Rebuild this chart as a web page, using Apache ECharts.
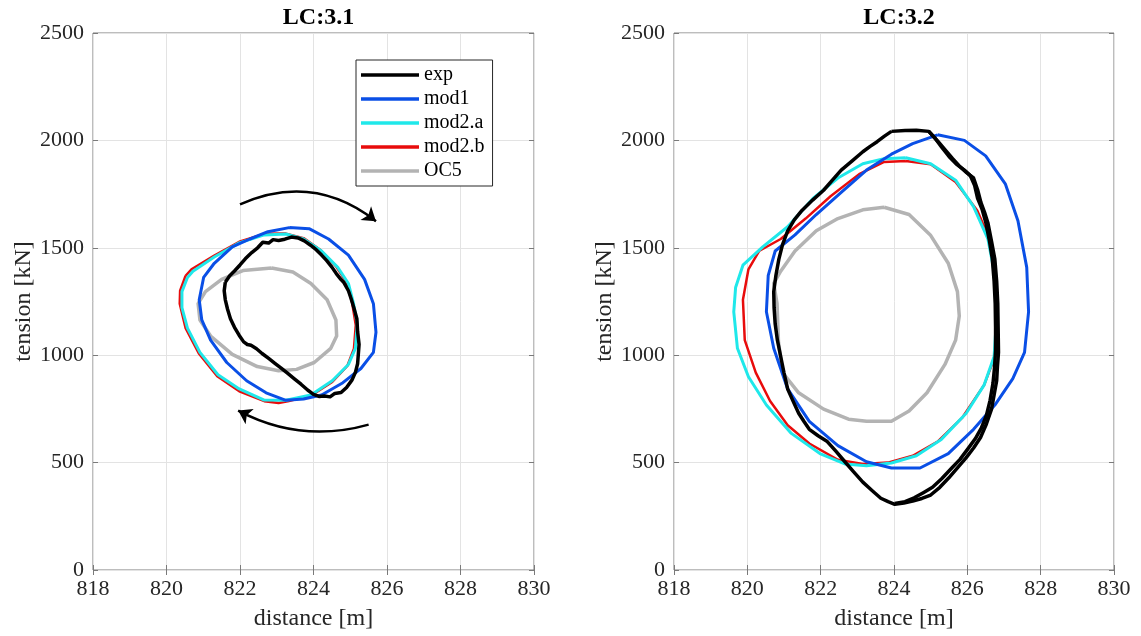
<!DOCTYPE html>
<html>
<head>
<meta charset="utf-8">
<script src="https://cdn.jsdelivr.net/npm/echarts@6/dist/echarts.min.js"></script>
<style>
html,body{margin:0;padding:0;background:#fff;}
#chart{width:1141px;height:636px;}
</style>
</head>
<body>
<div id="chart"></div>
<script>
// ---------- data ----------
const TITLES = ['LC:3.1', 'LC:3.2'];
const SERIES_NAMES = ['exp', 'mod1', 'mod2.a', 'mod2.b', 'OC5'];
const X_TICKS = [818, 820, 822, 824, 826, 828, 830];
const Y_TICKS = [0, 500, 1000, 1500, 2000, 2500];

// LC:3.1
const LC31_EXP = [[821.60,1340],[821.57,1300],[821.60,1258],[821.66,1215],[821.74,1170],[821.85,1130],[821.98,1092],[822.10,1062],[822.20,1050],[822.30,1046],[822.45,1030],[822.60,1008],[822.78,985],[822.95,962],[823.12,940],[823.30,915],[823.48,890],[823.66,865],[823.84,838],[824.00,818],[824.15,808],[824.30,810],[824.45,806],[824.58,822],[824.75,826],[824.90,850],[825.05,885],[825.14,920],[825.20,960],[825.22,1005],[825.24,1050],[825.20,1110],[825.18,1170],[825.10,1220],[825.02,1265],[824.95,1300],[824.82,1340],[824.75,1352],[824.62,1380],[824.50,1410],[824.36,1440],[824.22,1466],[824.08,1490],[823.92,1512],[823.75,1532],[823.58,1546],[823.40,1550],[823.22,1540],[823.05,1534],[822.90,1538],[822.78,1522],[822.62,1526],[822.48,1500],[822.32,1478],[822.15,1450],[822.00,1420],[821.85,1392],[821.72,1370],[821.60,1340]];
const LC31_MOD1 = [[823.34,1594],[823.88,1589],[824.41,1541],[824.95,1466],[825.39,1353],[825.63,1240],[825.70,1107],[825.63,1013],[825.29,938],[824.80,872],[824.22,815],[823.73,796],[823.25,790],[822.71,825],[822.18,881],[821.64,966],[821.20,1070],[820.96,1164],[820.89,1258],[821.01,1362],[821.30,1428],[821.79,1504],[822.27,1541],[822.76,1575],[823.34,1594]];
const LC31_MOD2A = [[820.57,1362],[820.42,1296],[820.42,1221],[820.57,1126],[820.91,1013],[821.40,909],[821.98,843],[822.66,791],[823.25,790],[823.93,815],[824.51,881],[824.95,957],[825.14,1032],[825.19,1145],[825.09,1240],[824.95,1334],[824.66,1409],[824.22,1485],[823.73,1541],[823.25,1564],[822.66,1560],[821.98,1523],[821.30,1457],[820.72,1391],[820.57,1362]];
const LC31_MOD2B = [[820.52,1370],[820.37,1300],[820.36,1240],[820.52,1126],[820.88,1008],[821.38,902],[821.98,832],[822.66,786],[823.05,777],[823.30,785],[823.93,812],[824.51,876],[824.92,950],[825.10,1030],[825.15,1140],[825.05,1245],[824.90,1340],[824.62,1412],[824.20,1488],[823.73,1545],[823.25,1566],[822.66,1565],[821.98,1528],[821.30,1464],[820.68,1400],[820.52,1370]];
const LC31_OC5 = [[822.86,1406],[823.44,1387],[823.93,1334],[824.37,1258],[824.61,1164],[824.63,1089],[824.47,1032],[824.02,966],[823.54,934],[823.05,928],[822.47,947],[821.79,1004],[821.20,1089],[820.91,1164],[820.86,1240],[821.06,1296],[821.50,1353],[822.08,1394],[822.86,1406]];
const LC31_ARROWS = [[[822.0,1702],[825.7,1624]], [[825.5,677],[821.95,742]]];

// LC:3.2
const LC32_EXP = [[823.93,2042],[824.30,2046],[824.61,2047],[824.95,2042],[825.20,1995],[825.39,1957],[825.60,1915],[825.78,1881],[825.98,1850],[826.17,1825],[826.28,1770],[826.37,1711],[826.47,1665],[826.56,1617],[826.66,1530],[826.75,1447],[826.80,1345],[826.83,1240],[826.84,1130],[826.85,1013],[826.82,945],[826.80,881],[826.73,815],[826.66,749],[826.52,680],[826.36,617],[826.17,568],[825.97,523],[825.73,475],[825.49,428],[825.25,385],[825.00,349],[824.76,333],[824.51,321],[824.27,312],[824.02,306],[823.84,318],[823.64,334],[823.40,370],[823.15,409],[822.90,457],[822.66,504],[822.42,552],[822.18,598],[821.93,625],[821.69,655],[821.55,690],[821.40,730],[821.25,785],[821.10,843],[821.00,918],[820.91,994],[820.82,1070],[820.76,1145],[820.73,1220],[820.72,1296],[820.78,1372],[820.86,1447],[820.96,1515],[821.10,1579],[821.28,1630],[821.49,1674],[821.78,1722],[822.08,1768],[822.32,1815],[822.56,1862],[822.86,1905],[823.15,1947],[823.35,1972],[823.54,1994],[823.74,2020],[823.93,2042]];
const LC32_EXP_B = [[824.95,2042],[825.12,2010],[825.30,1968],[825.50,1925],[825.70,1890],[825.92,1862],[826.08,1836],[826.20,1790],[826.28,1730],[826.40,1680],[826.50,1620],[826.60,1535],[826.68,1450],[826.73,1345],[826.76,1240],[826.77,1130],[826.77,1020],[826.74,940],[826.70,870],[826.62,790],[826.52,720],[826.38,660],[826.22,612],[826.02,565],[825.80,515],[825.55,470],[825.30,425],[825.05,385],[824.80,360],[824.55,336],[824.30,318],[824.02,310]];
const LC32_MOD1 = [[825.19,2026],[825.92,2000],[826.50,1928],[827.04,1796],[827.38,1626],[827.62,1409],[827.67,1202],[827.56,1013],[827.24,891],[826.75,768],[826.17,655],[825.48,542],[824.71,475],[823.93,475],[823.25,504],[822.47,579],[821.69,692],[821.10,843],[820.72,1032],[820.52,1202],[820.57,1372],[820.76,1485],[821.30,1560],[821.88,1655],[822.56,1758],[823.25,1862],[823.93,1936],[824.51,1985],[825.19,2026]];
const LC32_MOD2A = [[824.32,1919],[825.00,1891],[825.68,1815],[826.17,1692],[826.56,1542],[826.75,1372],[826.80,1183],[826.73,994],[826.46,862],[825.97,730],[825.29,608],[824.61,532],[823.93,498],[823.25,485],[822.66,494],[821.98,542],[821.20,636],[820.52,768],[820.03,900],[819.73,1032],[819.63,1202],[819.68,1315],[819.88,1419],[820.42,1504],[821.10,1598],[821.79,1730],[822.47,1825],[823.15,1891],[823.73,1915],[824.32,1919]];
const LC32_MOD2B = [[824.32,1904],[825.00,1889],[825.68,1806],[826.27,1674],[826.65,1523],[826.80,1334],[826.83,1145],[826.75,994],[826.46,862],[825.87,711],[825.19,598],[824.51,532],[823.83,500],[823.15,494],[822.47,513],[821.69,589],[821.10,674],[820.62,787],[820.23,919],[819.93,1070],[819.88,1258],[820.03,1400],[820.32,1485],[820.91,1541],[821.59,1636],[822.27,1740],[823.05,1843],[823.73,1900],[824.32,1904]];
const LC32_OC5 = [[823.73,1689],[824.41,1655],[824.99,1560],[825.48,1428],[825.73,1296],[825.78,1183],[825.68,1070],[825.39,957],[824.90,825],[824.41,740],[823.93,692],[823.25,692],[822.76,702],[822.08,749],[821.40,825],[820.96,919],[820.85,1060],[820.81,1240],[820.72,1334],[820.91,1391],[821.30,1485],[821.88,1579],[822.47,1636],[823.15,1677],[823.73,1689]];

// ---------- chart ----------
const COLORS = {exp:'#000000', mod1:'#0a4fe6', 'mod2.a':'#1fe8ea', 'mod2.b':'#e80c0c', OC5:'#b3b3b3'};
const WIDTHS = {exp:3.5, mod1:3, 'mod2.a':3, 'mod2.b':2.5, OC5:3.5};
const ZS = {exp:10, mod1:8, 'mod2.a':7, 'mod2.b':6, OC5:5};
const FONT = '"Liberation Serif","Times New Roman",serif';

const grids = [
  {left:93, right:1141-534, top:33, bottom:636-571, show:true, borderColor:'#7a7a7a', borderWidth:1, backgroundColor:'#fff'},
  {left:674, right:1141-1114, top:33, bottom:636-571, show:true, borderColor:'#7a7a7a', borderWidth:1, backgroundColor:'#fff'}
];

function xAx(gi, mirror){
  return {
    type:'value', gridIndex:gi, min:X_TICKS[0], max:X_TICKS[X_TICKS.length-1], interval:2,
    position: mirror ? 'top' : 'bottom',
    name: mirror ? '' : 'distance [m]', nameLocation:'middle', nameGap:37,
    nameTextStyle:{fontFamily:FONT, fontSize:24, color:'#262626'},
    axisLine:{show:false},
    axisTick:{show:true, inside:true, length:5, lineStyle:{color:'#7a7a7a'}},
    axisLabel:{show:!mirror, fontFamily:FONT, fontSize:22, color:'#262626', margin:8, formatter:(v)=>String(v)},
    splitLine:{show:!mirror, lineStyle:{color:'#e3e3e3', width:1}}
  };
}
function yAx(gi, mirror){
  return {
    type:'value', gridIndex:gi, min:Y_TICKS[0], max:Y_TICKS[Y_TICKS.length-1], interval:500,
    position: mirror ? 'right' : 'left',
    name: mirror ? '' : 'tension [kN]', nameLocation:'middle', nameGap:45,
    nameTextStyle:{fontFamily:FONT, fontSize:24, color:'#262626'},
    axisLine:{show:false},
    axisTick:{show:true, inside:true, length:5, lineStyle:{color:'#7a7a7a'}},
    axisLabel:{show:!mirror, fontFamily:FONT, fontSize:22, color:'#262626', margin:9, formatter:(v)=>String(v)},
    splitLine:{show:!mirror, lineStyle:{color:'#e3e3e3', width:1}}
  };
}

const xAxes = [xAx(0,false), xAx(1,false), xAx(0,true), xAx(1,true)];
const yAxes = [yAx(0,false), yAx(1,false), yAx(0,true), yAx(1,true)];

function lineSeries(name, data, gi){
  return {
    type:'line', name:name, data:data, xAxisIndex:gi, yAxisIndex:gi,
    showSymbol:false, symbol:'none', smooth:false, z:ZS[name],
    lineStyle:{color:COLORS[name], width:WIDTHS[name], join:'round'},
    itemStyle:{color:COLORS[name]},
    emphasis:{disabled:true}, silent:true, animation:false
  };
}

const series = [
  lineSeries('OC5', LC31_OC5, 0),
  lineSeries('mod2.b', LC31_MOD2B, 0),
  lineSeries('mod2.a', LC31_MOD2A, 0),
  lineSeries('mod1', LC31_MOD1, 0),
  lineSeries('exp', LC31_EXP, 0),
  lineSeries('OC5', LC32_OC5, 1),
  lineSeries('mod2.b', LC32_MOD2B, 1),
  lineSeries('mod2.a', LC32_MOD2A, 1),
  lineSeries('mod1', LC32_MOD1, 1),
  lineSeries('exp', LC32_EXP, 1),
  lineSeries('exp', LC32_EXP_B, 1),
  {
    type:'lines', coordinateSystem:'cartesian2d', xAxisIndex:0, yAxisIndex:0, z:12,
    symbol:['none','arrow'], symbolSize:[0,13], silent:true, animation:false,
    lineStyle:{color:'#000', width:2.5, opacity:1},
    data:[
      {coords:LC31_ARROWS[0], lineStyle:{curveness:0.3}},
      {coords:LC31_ARROWS[1], lineStyle:{curveness:0.2}}
    ]
  }
];

const option = {
  backgroundColor:'#fff',
  animation:false,
  title: TITLES.map((t,i)=>({
    text:t, left: i===0 ? (93+534)/2 : (674+1114)/2, textAlign:'center', top:1,
    textStyle:{fontFamily:FONT, fontSize:24, fontWeight:'bold', color:'#000'}
  })),
  legend:{
    data:SERIES_NAMES.map(n=>({name:n, icon:'rect', itemStyle:{color:COLORS[n]}})),
    orient:'vertical', left:356, top:60,
    padding:[5,8,5,5], itemGap:4, itemWidth:58, itemHeight:3.5,
    backgroundColor:'#fff', borderColor:'#262626', borderWidth:1, borderRadius:0,
    selectedMode:false,
    textStyle:{fontFamily:FONT, fontSize:20, color:'#000', lineHeight:20}
  },
  grid:grids,
  xAxis:xAxes,
  yAxis:yAxes,
  series:series
};

const chart = echarts.init(document.getElementById('chart'), null, {renderer:'canvas'});
chart.setOption(option);
</script>
</body>
</html>
